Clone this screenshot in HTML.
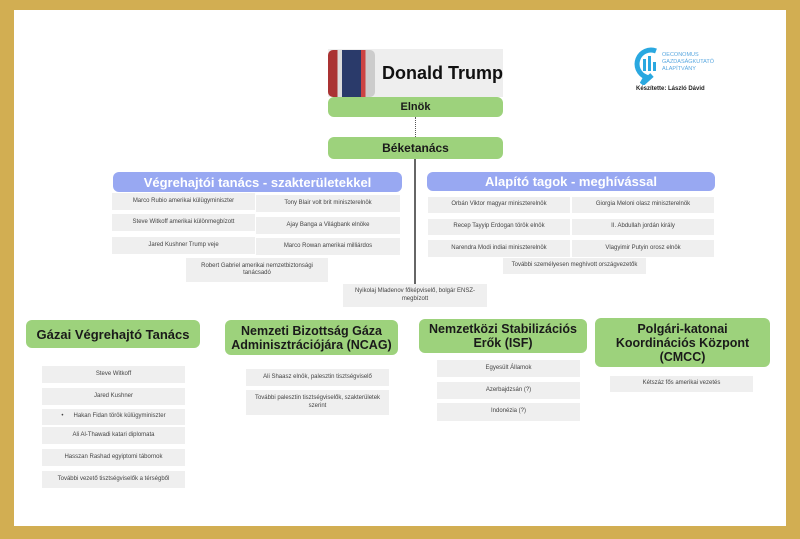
<!DOCTYPE html>
<html><head><meta charset="utf-8"><style>
*{margin:0;padding:0;box-sizing:border-box}
body{width:800px;height:539px;position:relative;overflow:hidden;font-family:"Liberation Sans",Arial,sans-serif;background:#d2ae52}
#w{position:absolute;left:14px;top:10px;width:772px;height:516px;background:#fff}
.a{position:absolute;display:flex;align-items:center;justify-content:center;text-align:center}
.g{background:#efefef;font-size:6px;color:#444;line-height:7.5px}
.gr{background:#9dd27c;border-radius:6px;font-weight:bold;color:#1a1a1a}
.bl{background:#98a8f2;border-radius:6px;font-weight:bold;color:#fff;font-size:13px}
</style></head><body>
<div id="w"></div>
<div class="a" style="left:328px;top:49px;width:175px;height:48px;background:#eeeeee;justify-content:flex-start">
<div style="flex-shrink:0;width:47px;height:47px;border-radius:5px;background:linear-gradient(90deg,#a33 0 20%,#ddd 20% 30%,#2a3a6a 30% 70%,#c44 70% 80%,#ccc 80%);"></div>
<span style="font-size:18px;font-weight:bold;color:#111;margin-left:7px;white-space:nowrap">Donald Trump</span></div>
<div class="a gr" style="left:328px;top:97px;width:175px;height:20px;font-size:11px">Elnök</div>
<div style="position:absolute;left:415px;top:117px;height:20px;border-left:1px dotted #555"></div>
<div class="a gr" style="left:328px;top:137px;width:175px;height:22px;font-size:12px">Béketanács</div>
<div style="position:absolute;left:414px;top:159px;width:2px;height:126px;background:#666"></div>
<div class="a bl" style="left:113px;top:172px;width:289px;height:20px">Végrehajtói tanács - szakterületekkel</div>
<div class="a bl" style="left:427px;top:172px;width:288px;height:19px">Alapító tagok - meghívással</div>
<div class="a g" style="left:112px;top:193px;width:143px;height:17px">Marco Rubio amerikai külügyminiszter</div>
<div class="a g" style="left:112px;top:214px;width:143px;height:17px">Steve Witkoff amerikai különmegbízott</div>
<div class="a g" style="left:112px;top:237px;width:143px;height:17px">Jared Kushner Trump veje</div>
<div class="a g" style="left:256px;top:195px;width:144px;height:17px">Tony Blair volt brit miniszterelnök</div>
<div class="a g" style="left:256px;top:217px;width:144px;height:17px">Ajay Banga a Világbank elnöke</div>
<div class="a g" style="left:256px;top:238px;width:144px;height:17px">Marco Rowan amerikai milliárdos</div>
<div class="a g" style="left:186px;top:258px;width:142px;height:24px">Robert Gabriel amerikai nemzetbiztonsági<br>tanácsadó</div>
<div class="a g" style="left:428px;top:197px;width:142px;height:16px">Orbán Viktor magyar miniszterelnök</div>
<div class="a g" style="left:428px;top:219px;width:142px;height:16px">Recep Tayyip Erdogan török elnök</div>
<div class="a g" style="left:428px;top:240px;width:142px;height:17px">Narendra Modi indiai miniszterelnök</div>
<div class="a g" style="left:572px;top:197px;width:142px;height:16px">Giorgia Meloni olasz miniszterelnök</div>
<div class="a g" style="left:572px;top:219px;width:142px;height:16px">II. Abdullah jordán király</div>
<div class="a g" style="left:572px;top:240px;width:142px;height:17px">Vlagyimir Putyin orosz elnök</div>
<div class="a g" style="left:503px;top:258px;width:143px;height:16px">További személyesen meghívott országvezetők</div>
<div class="a g" style="left:343px;top:284px;width:144px;height:23px">Nyikolaj Mladenov főképviselő, bolgár ENSZ-<br>megbízott</div>
<div class="a gr" style="left:26px;top:320px;width:174px;height:28px;font-size:13px">Gázai Végrehajtó Tanács</div>
<div class="a gr" style="left:225px;top:320px;width:173px;height:35px;font-size:12.5px;line-height:14px">Nemzeti Bizottság Gáza<br>Adminisztrációjára (NCAG)</div>
<div class="a gr" style="left:419px;top:319px;width:168px;height:34px;font-size:12.5px;line-height:14px">Nemzetközi Stabilizációs<br>Erők (ISF)</div>
<div class="a gr" style="left:595px;top:318px;width:175px;height:49px;font-size:12.5px;line-height:14px">Polgári-katonai<br>Koordinációs Központ<br>(CMCC)</div>
<div class="a g" style="left:42px;top:366px;width:143px;height:17px">Steve Witkoff</div>
<div class="a g" style="left:42px;top:388px;width:143px;height:17px">Jared Kushner</div>
<div class="a g" style="left:42px;top:409px;width:143px;height:16px">•&nbsp;&nbsp;&nbsp;&nbsp;&nbsp;&nbsp;Hakan Fidan török külügyminiszter</div>
<div class="a g" style="left:42px;top:427px;width:143px;height:17px">Ali Al-Thawadi katari diplomata</div>
<div class="a g" style="left:42px;top:449px;width:143px;height:17px">Hasszan Rashad egyiptomi tábornok</div>
<div class="a g" style="left:42px;top:471px;width:143px;height:17px">További vezető tisztségviselők a térségből</div>
<div class="a g" style="left:246px;top:369px;width:143px;height:17px">Ali Shaasz elnök, palesztin tisztségviselő</div>
<div class="a g" style="left:246px;top:390px;width:143px;height:25px">További palesztin tisztségviselők, szakterületek<br>szerint</div>
<div class="a g" style="left:437px;top:360px;width:143px;height:17px">Egyesült Államok</div>
<div class="a g" style="left:437px;top:382px;width:143px;height:17px">Azerbajdzsán (?)</div>
<div class="a g" style="left:437px;top:403px;width:143px;height:18px">Indonézia (?)</div>
<div class="a g" style="left:610px;top:376px;width:143px;height:16px">Kétszáz fős amerikai vezetés</div>
<svg style="position:absolute;left:632px;top:47px" width="30" height="38" viewBox="0 0 30 38"><path d="M24 4 A13 13 0 1 0 14 30 L10 37 L20 28" fill="none" stroke="#2aa8e0" stroke-width="5"/><rect x="11" y="12" width="3" height="12" fill="#2aa8e0"/><rect x="16" y="9" width="3" height="15" fill="#2aa8e0"/><rect x="21" y="15" width="3" height="9" fill="#2aa8e0"/></svg>
<div style="position:absolute;left:662px;top:52px;font-size:5.5px;line-height:7px;color:#5aa8e0">OECONOMUS<br>GAZDASÁGKUTATÓ<br>ALAPÍTVÁNY</div>
<div style="position:absolute;left:636px;top:86px;font-size:6px;font-weight:bold;color:#222">Készítette: László Dávid</div>
</body></html>
